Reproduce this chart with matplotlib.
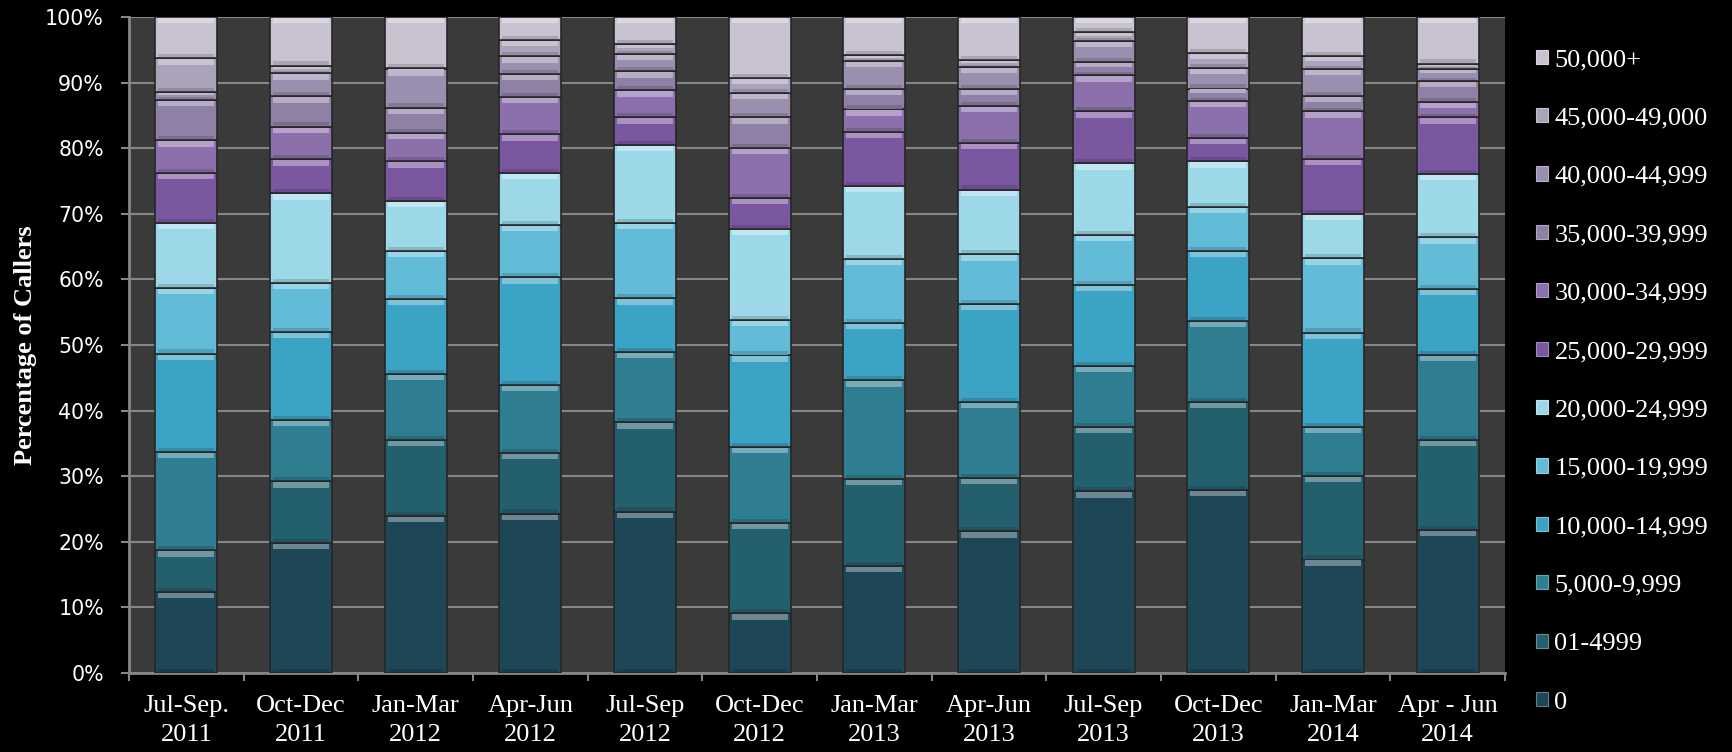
import numpy as np
import matplotlib
matplotlib.use("Agg")
import matplotlib.pyplot as plt
from matplotlib.patches import Patch
from matplotlib.colors import to_rgb

# =========================
# DATA (percent of callers per income band)
# =========================
quarters = ["Jul-Sep.\n2011", "Oct-Dec\n2011", "Jan-Mar\n2012", "Apr-Jun\n2012",
            "Jul-Sep\n2012", "Oct-Dec\n2012", "Jan-Mar\n2013", "Apr-Jun\n2013",
            "Jul-Sep\n2013", "Oct-Dec\n2013", "Jan-Mar\n2014", "Apr - Jun\n2014"]

bands = ["0", "01-4999", "5,000-9,999", "10,000-14,999", "15,000-19,999",
         "20,000-24,999", "25,000-29,999", "30,000-34,999", "35,000-39,999",
         "40,000-44,999", "45,000-49,000", "50,000+"]

band_0 = [12.4, 19.8, 23.9, 24.3, 24.6, 9.1, 16.3, 21.6, 27.7, 27.9, 17.3, 21.8]
band_1_4999 = [6.3, 9.4, 11.6, 9.2, 13.6, 13.8, 13.3, 8.1, 9.8, 13.4, 12.7, 13.7]
band_5000 = [15.0, 9.4, 10.1, 10.4, 10.7, 11.6, 15.0, 11.6, 9.3, 12.4, 7.5, 13.0]
band_10000 = [15.0, 13.4, 11.4, 16.4, 8.2, 13.9, 8.8, 15.0, 12.4, 10.6, 14.4, 10.0]
band_15000 = [10.0, 7.5, 7.3, 8.0, 11.5, 5.4, 9.7, 7.5, 7.6, 6.7, 11.3, 7.9]
band_20000 = [9.9, 13.6, 7.7, 7.9, 11.9, 13.9, 11.1, 9.9, 10.9, 7.0, 6.8, 9.7]
band_25000 = [7.6, 5.2, 6.0, 5.9, 4.2, 4.7, 8.3, 7.1, 7.9, 3.6, 8.4, 8.6]
band_30000 = [5.0, 5.0, 4.3, 5.7, 4.1, 7.6, 3.4, 5.6, 5.5, 5.6, 7.2, 2.3]
band_35000 = [6.2, 4.6, 3.9, 3.5, 2.9, 4.7, 3.1, 2.6, 2.0, 1.9, 2.3, 3.3]
band_40000 = [1.2, 3.5, 5.8, 2.7, 2.7, 3.7, 4.3, 3.4, 3.3, 3.1, 4.2, 1.8]
band_45000 = [5.1, 1.2, 0.2, 2.5, 1.5, 2.3, 0.9, 1.0, 1.3, 2.3, 1.9, 0.8]
band_50000 = [6.3, 7.4, 7.8, 3.5, 4.1, 9.3, 5.8, 6.6, 2.3, 5.5, 6.0, 7.1]

series = [band_0, band_1_4999, band_5000, band_10000, band_15000, band_20000,
          band_25000, band_30000, band_35000, band_40000, band_45000, band_50000]

colors = ["#1d4656", "#245f6e", "#2e7d90", "#3ba3c3", "#62bbd7", "#9dd8e9",
          "#7a58a0", "#8b70ab", "#8f80a6", "#9b8faf", "#aaa3ba", "#c8c2d1"]


def mix(c, other, amt):
    a = np.array(to_rgb(c))
    b = np.array(to_rgb(other))
    return tuple(a * (1 - amt) + b * amt)


# =========================
# FIGURE
# =========================
W, H = 1733, 752
fig = plt.figure(figsize=(W / 100, H / 100), dpi=100, facecolor="black")
ax = fig.add_axes([129 / W, 1 - 673 / H, (1505 - 129) / W, (673 - 17) / H])
ax.set_facecolor("#3a3a3a")

x = np.arange(len(quarters))
bw = 0.54
bottom = np.zeros(len(quarters))

for vals, col in zip(series, colors):
    vals = np.array(vals)
    ax.bar(x, vals, bw, bottom=bottom, color=col, edgecolor="#262626",
           linewidth=1.2, zorder=3)
    # bevel: light strip on top, dark strip at bottom
    hl = np.minimum(vals * 0.3, 0.8)
    ax.bar(x, hl, bw * 0.9, bottom=bottom + vals - hl - 0.15,
           color=mix(col, "white", 0.35), linewidth=0, zorder=4)
    ax.bar(x, hl * 0.6, bw * 0.9, bottom=bottom + 0.15,
           color=mix(col, "black", 0.15), linewidth=0, zorder=4)
    bottom += vals

# =========================
# AXES STYLE
# =========================
ax.set_xlim(-0.5, len(quarters) - 0.5)
ax.set_ylim(0, 100)

ax.set_yticks(np.arange(0, 101, 10))
ax.set_yticklabels([f"{v}%" for v in range(0, 101, 10)])
ax.tick_params(axis="y", colors="#868686", length=6, width=1.5, pad=12,
               labelcolor="white", labelsize=14.8)

ax.set_xticks(x)
ax.set_xticklabels(quarters, fontfamily="Liberation Serif", fontsize=19,
                   color="white", linespacing=1.4)
ax.set_xticks(np.arange(-0.5, len(quarters)), minor=True)
ax.tick_params(axis="x", which="major", length=0, pad=16)
ax.tick_params(axis="x", which="minor", length=6, width=1.5, colors="#868686")

ax.grid(axis="y", color="#868686", linewidth=1.5, zorder=0)
ax.set_axisbelow(True)

for s in ["top", "right"]:
    ax.spines[s].set_visible(False)
for s in ["left", "bottom"]:
    ax.spines[s].set_color("#868686")
    ax.spines[s].set_linewidth(2)

fig.text(26 / W, 1 - 345 / H, "Percentage of Callers", rotation=90,
         ha="center", va="center", color="white", fontsize=19,
         fontweight="bold", fontfamily="Liberation Serif")

# =========================
# LEGEND
# =========================
handles = [Patch(facecolor=c, edgecolor=mix(c, "white", 0.3), linewidth=0.8)
           for c in colors][::-1]
fig.legend(handles, bands[::-1], loc="upper left",
           bbox_to_anchor=(1536 / W, 1 - 49 / H), frameon=False,
           prop={"family": "Liberation Serif", "size": 19},
           labelcolor="white", handlelength=0.45, handleheight=0.45,
           handletextpad=0.25, labelspacing=1.38, borderpad=0,
           borderaxespad=0)

fig.savefig("out.png", dpi=100, facecolor="black")
